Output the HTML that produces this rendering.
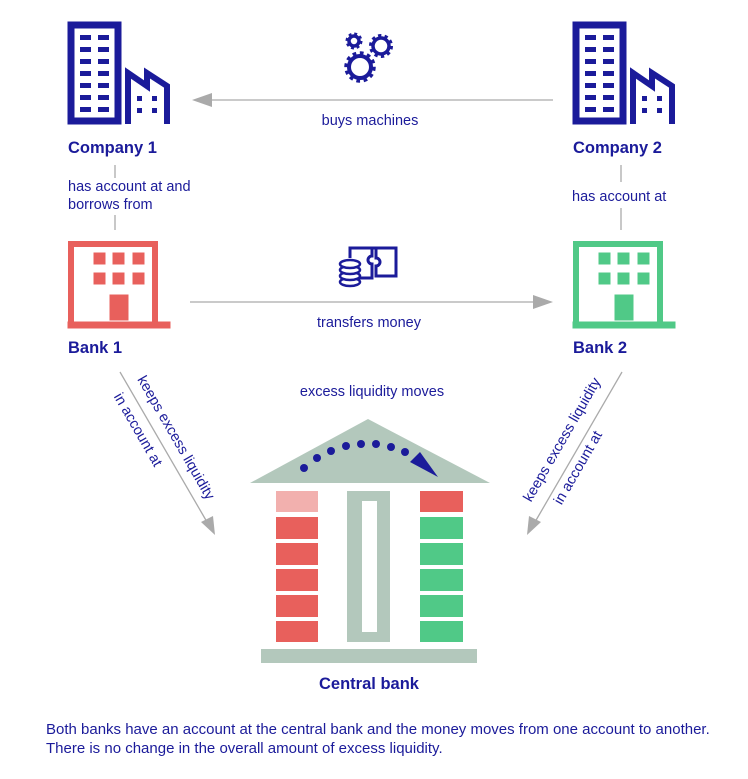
<!DOCTYPE html>
<html><head><style>body{margin:0;background:#fff}svg{display:block}text{font-family:"Liberation Sans",sans-serif;fill:#1b1b9a}</style></head><body>
<svg width="748" height="779" viewBox="0 0 748 779">
<defs>
<g id="comp">
<rect x="71" y="25" width="47" height="96" fill="none" stroke="#1b1b9a" stroke-width="7"/>
<g fill="#1b1b9a">
<rect x="80" y="35" width="11" height="5"/><rect x="98" y="35" width="11" height="5"/>
<rect x="80" y="47" width="11" height="5"/><rect x="98" y="47" width="11" height="5"/>
<rect x="80" y="59" width="11" height="5"/><rect x="98" y="59" width="11" height="5"/>
<rect x="80" y="71" width="11" height="5"/><rect x="98" y="71" width="11" height="5"/>
<rect x="80" y="83" width="11" height="5"/><rect x="98" y="83" width="11" height="5"/>
<rect x="80" y="95" width="11" height="5"/><rect x="98" y="95" width="11" height="5"/>
<rect x="80" y="107" width="11" height="5"/><rect x="98" y="107" width="11" height="5"/>
<rect x="137" y="96" width="5" height="5"/><rect x="152" y="96" width="5" height="5"/>
<rect x="137" y="108" width="5" height="5"/><rect x="152" y="108" width="5" height="5"/>
</g>
<path d="M128,124 V73 L147,86 V73 L167,86 V124" fill="none" stroke="#1b1b9a" stroke-width="6"/>
</g>
<g id="bank">
<path d="M71,322 V244 H155 V322" fill="none" stroke-width="6"/>
<rect x="94" y="253" width="11" height="11"/><rect x="113" y="253" width="11" height="11"/><rect x="133" y="253" width="11" height="11"/>
<rect x="94" y="273" width="11" height="11"/><rect x="113" y="273" width="11" height="11"/><rect x="133" y="273" width="11" height="11"/>
<rect x="110" y="295" width="18" height="25"/>
<rect x="68" y="322" width="102" height="6"/>
</g>
</defs>
<use href="#comp"/>
<use href="#comp" x="505"/>
<g fill="#e8605c" stroke="#e8605c"><use href="#bank"/></g>
<g fill="#50c987" stroke="#50c987"><use href="#bank" x="505"/></g>

<g font-size="16.5" font-weight="bold">
<text x="68" y="153">Company 1</text>
<text x="573" y="153">Company 2</text>
<text x="68" y="353">Bank 1</text>
<text x="573" y="353">Bank 2</text>
<text x="369" y="689" text-anchor="middle">Central bank</text>
</g>

<g stroke="#aaa" stroke-width="1.3">
<line x1="115" y1="165" x2="115" y2="178"/><line x1="115" y1="215" x2="115" y2="230"/>
<line x1="621" y1="165" x2="621" y2="182"/><line x1="621" y1="208" x2="621" y2="230"/>
<line x1="553" y1="100" x2="210" y2="100"/>
<line x1="190" y1="302" x2="535" y2="302"/>
<line x1="120" y1="372" x2="207" y2="522"/>
<line x1="622" y1="372" x2="535" y2="522"/>
</g>
<g fill="#aaa">
<polygon points="192,100 212,93 212,107"/>
<polygon points="553,302 533,295 533,309"/>
<polygon points="215,535 201,522 213,516"/>
<polygon points="527,535 529,516 541,522"/>
</g>
<g font-size="14.5">
<text x="68" y="191">has account at and</text>
<text x="68" y="209">borrows from</text>
<text x="572" y="201">has account at</text>
<text x="370" y="125" text-anchor="middle">buys machines</text>
<text x="369" y="327" text-anchor="middle">transfers money</text>
<text x="372" y="396" text-anchor="middle">excess liquidity moves</text>
<text transform="translate(172,440) rotate(60)" text-anchor="middle">keeps excess liquidity</text>
<text transform="translate(134,432) rotate(60)" text-anchor="middle">in account at</text>
<text transform="translate(566,442) rotate(-60)" text-anchor="middle">keeps excess liquidity</text>
<text transform="translate(582,470) rotate(-60)" text-anchor="middle">in account at</text>
</g>
<g font-size="15">
<text x="46" y="734">Both banks have an account at the central bank and the money moves from one account to another.</text>
<text x="46" y="753">There is no change in the overall amount of excess liquidity.</text>
</g>

<!-- gears -->
<g fill="none" stroke="#1b1b9a">
<circle cx="354" cy="41" r="5" stroke-width="3.5"/>
<circle cx="354" cy="41" r="7" stroke-width="3" stroke-dasharray="2.8 2.7"/>
<circle cx="381" cy="46" r="8" stroke-width="3.5"/>
<circle cx="381" cy="46" r="10.5" stroke-width="3" stroke-dasharray="3.3 3.3"/>
<circle cx="360" cy="67" r="11" stroke-width="4"/>
<circle cx="360" cy="67" r="14" stroke-width="3.5" stroke-dasharray="3.7 3.6"/>
</g>
<!-- money icon -->
<g fill="none" stroke="#1b1b9a" stroke-width="3">
<path d="M350,258 V248 H372 V256 a4,4 0 0 0 0,8 V278 H358"/>
<path d="M372,248 H396 V276 H376 V266 a4,4 0 0 0 0,-8 V248"/>
</g>
<g fill="#fff" stroke="#1b1b9a" stroke-width="2.5">
<ellipse cx="350" cy="282" rx="10" ry="4"/><ellipse cx="350" cy="276" rx="10" ry="4"/><ellipse cx="350" cy="270" rx="10" ry="4"/><ellipse cx="350" cy="264" rx="10" ry="4"/>
</g>

<!-- central bank -->
<polygon points="368,419 250,483 490,483" fill="#b3c8bc"/>
<rect x="276" y="491" width="42" height="21" fill="#f2b0ae"/>
<g fill="#e8605c">
<rect x="276" y="517" width="42" height="22"/><rect x="276" y="543" width="42" height="22"/><rect x="276" y="569" width="42" height="22"/><rect x="276" y="595" width="42" height="22"/><rect x="276" y="621" width="42" height="21"/>
<rect x="420" y="491" width="43" height="21"/>
</g>
<g fill="#50c987">
<rect x="420" y="517" width="43" height="22"/><rect x="420" y="543" width="43" height="22"/><rect x="420" y="569" width="43" height="22"/><rect x="420" y="595" width="43" height="22"/><rect x="420" y="621" width="43" height="21"/>
</g>
<rect x="347" y="491" width="43" height="151" fill="#b3c8bc"/>
<rect x="362" y="501" width="15" height="131" fill="#fff"/>
<rect x="261" y="649" width="216" height="14" fill="#b3c8bc"/>
<g fill="#1b1b9a">
<circle cx="304" cy="468" r="4"/><circle cx="317" cy="458" r="4"/><circle cx="331" cy="451" r="4"/><circle cx="346" cy="446" r="4"/><circle cx="361" cy="444" r="4"/><circle cx="376" cy="444" r="4"/><circle cx="391" cy="447" r="4"/><circle cx="405" cy="452" r="4"/>
<polygon points="410,462 420,452 438,477"/>
</g>
</svg>
</body></html>
